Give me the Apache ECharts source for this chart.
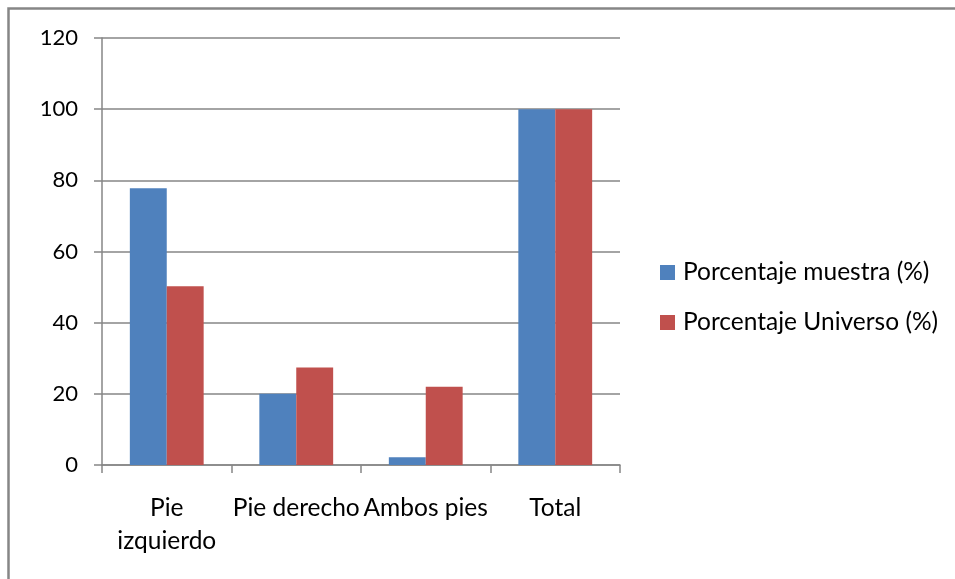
<!DOCTYPE html>
<html>
<head>
<meta charset="utf-8">
<script src="https://cdn.jsdelivr.net/npm/echarts@6/dist/echarts.min.js"></script>
<style>
  html, body { margin: 0; padding: 0; background: #fff; }
  #chart { width: 955px; height: 579px; }
</style>
</head>
<body>
<div id="chart"></div>
<script>
// Categories and percentages per foot group
const categories = ['Pie\nizquierdo', 'Pie derecho', 'Ambos pies', 'Total'];
const muestra = [77.8, 20, 2.2, 100];
const universo = [50.2, 27.4, 22, 100];
const seriesNames = ['Porcentaje muestra (%)', 'Porcentaje Universo (%)'];
const yTicks = { min: 0, max: 120, interval: 20 };

const FONT = 'Lato';
const AXIS_GREY = '#868686';

const chart = echarts.init(document.getElementById('chart'), null, { renderer: 'canvas' });

chart.setOption({
  animation: false,
  backgroundColor: '#ffffff',
  textStyle: { fontFamily: FONT },
  graphic: [{
    type: 'rect',
    shape: { x: 8.5, y: 8.5, width: 2000, height: 2000 },
    style: { fill: 'none', stroke: AXIS_GREY, lineWidth: 2.5 },
    silent: true
  }],
  grid: { left: 102, right: 335, top: 38, bottom: 114, containLabel: false },
  legend: {
    orient: 'vertical',
    left: 660,
    top: 260,
    padding: 0,
    itemWidth: 15,
    itemHeight: 15,
    itemGap: 25,
    icon: 'rect',
    textStyle: { fontFamily: FONT, fontSize: 24.5, lineHeight: 24, color: '#000', padding: [0, 0, 0, 3] },
    data: seriesNames
  },
  xAxis: {
    type: 'category',
    data: categories,
    axisLine: { lineStyle: { color: AXIS_GREY, width: 1.5 } },
    axisTick: { show: true, length: 8, alignWithLabel: false, lineStyle: { color: AXIS_GREY, width: 1.5 } },
    axisLabel: {
      interval: 0,
      margin: 27,
      fontFamily: FONT,
      fontSize: 24.5,
      lineHeight: 33,
      color: '#000'
    },
    splitLine: { show: false }
  },
  yAxis: {
    type: 'value',
    min: yTicks.min,
    max: yTicks.max,
    interval: yTicks.interval,
    axisLine: { show: true, lineStyle: { color: AXIS_GREY, width: 1.5 } },
    axisTick: { show: true, length: 8, lineStyle: { color: AXIS_GREY, width: 1.5 } },
    axisLabel: { margin: 24, fontFamily: FONT, fontSize: 22, color: '#000' },
    splitLine: { show: true, lineStyle: { color: AXIS_GREY, width: 1.5 } }
  },
  series: [
    {
      name: seriesNames[0],
      type: 'bar',
      data: muestra,
      itemStyle: { color: '#4F81BD' },
      barGap: '0%',
      barCategoryGap: '43%'
    },
    {
      name: seriesNames[1],
      type: 'bar',
      data: universo,
      itemStyle: { color: '#C0504D' },
      barGap: '0%',
      barCategoryGap: '43%'
    }
  ]
});
</script>
</body>
</html>
